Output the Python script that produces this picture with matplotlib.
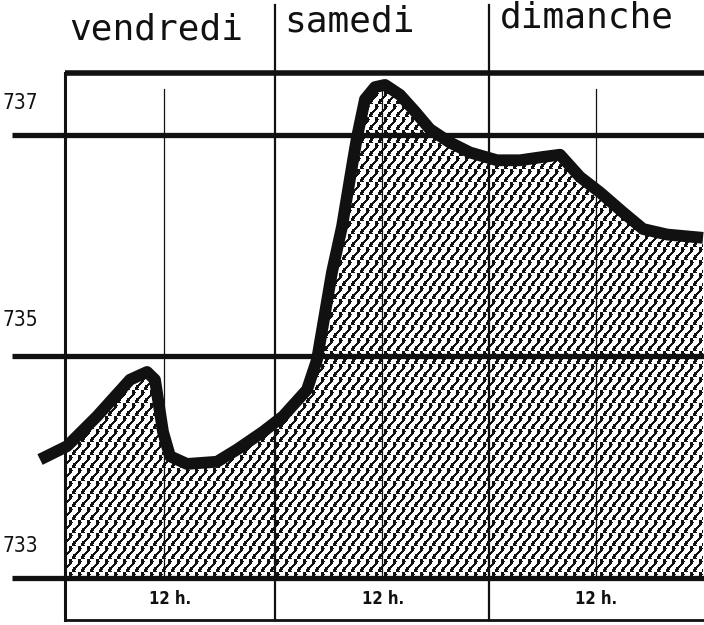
import numpy as np
import matplotlib
matplotlib.use("Agg")
import matplotlib.pyplot as plt
from matplotlib.patches import Polygon

# ---- data (hours from Friday 0 h, pressure in mm) ----
hours = [-2.35, 0.67, 4.04, 7.74, 9.65, 10.54, 11.44, 12.22, 14.13, 17.50,
         19.74, 22.65, 24.90, 27.59, 28.71, 30.39, 31.51, 32.75, 33.20, 34.09,
         35.21, 36.34, 38.02, 39.70, 41.38, 43.63, 45.87, 48.90, 51.48, 54.06,
         55.96, 58.20, 60.45, 63.03, 65.27, 67.96, 72.0]
pressure = [734.07, 734.19, 734.46, 734.79, 734.86, 734.79, 734.32, 734.10, 734.03, 734.05,
            734.16, 734.32, 734.46, 734.70, 734.97, 735.76, 736.17, 736.77, 736.98, 737.32,
            737.43, 737.45, 737.36, 737.21, 737.05, 736.93, 736.84, 736.77, 736.77, 736.80,
            736.82, 736.62, 736.48, 736.30, 736.15, 736.10, 736.07]
day_labels = ["vendredi", "samedi", "dimanche"]
day_bounds = [24, 48]
noon_hours = [11.5, 36, 60]
noon_label = "12 h."
pressure_levels = [737, 735, 733]
pressure_labels = ["737", "735", "733"]

W, H = 704, 625
xmin, xmax = -6.84, 72.11
ymin, ymax = 732.577, 738.216
left_border = 0.45
top_border = 737.56
bottom_border = 732.62

fig = plt.figure(figsize=(W / 100, H / 100), dpi=100)
ax = fig.add_axes([0, 0, 1, 1])
ax.set_xlim(xmin, xmax)
ax.set_ylim(ymin, ymax)
ax.axis("off")
ink = "#111111"

# ---- textured fill under the curve ----
hx = np.array(hours)
py = np.array(pressure)
mask = hx >= left_border
fx = np.concatenate([[left_border], hx[mask]])
fy = np.concatenate([[np.interp(left_border, hx, py)], py[mask]])
verts = np.column_stack([np.concatenate([fx, [fx[-1], fx[0]]]),
                         np.concatenate([fy, [733, 733]])])
poly = Polygon(verts, closed=True, transform=ax.transData,
               facecolor="none", edgecolor="none")
ax.add_patch(poly)

X, Y = np.meshgrid(np.arange(W), np.arange(H))
cx = X % 9
cy = Y % 13
xc = 2 + 5.0 * (1 - cy / 12.0) + 1.5 * np.sin(2 * np.pi * cy / 13.0)
d = np.abs(((cx - xc + 4.5) % 9) - 4.5)
black = (d < 1.7) | ((cy == 0) & (cx >= 6)) | ((cy == 12) & (cx <= 2))
tex = np.ones((H, W, 4))
tex[black, :3] = 0.07
im = ax.imshow(tex, extent=[xmin, xmax, ymin, ymax], origin="upper",
               interpolation="nearest", aspect="auto", zorder=1)
im.set_clip_path(poly)

# ---- frame and grid ----
ax.plot([left_border, xmax], [top_border, top_border], color=ink, lw=4, zorder=3,
        solid_capstyle="butt")
ax.plot([left_border, xmax], [bottom_border, bottom_border], color=ink, lw=2, zorder=3)
xl = -5.5
for lev in pressure_levels:
    ax.plot([xl, xmax], [lev, lev], color=ink, lw=3.8, zorder=3, solid_capstyle="butt")
ax.plot([left_border, left_border], [bottom_border, top_border], color=ink, lw=2.2, zorder=3)
for b in day_bounds:
    ax.plot([b, b], [bottom_border, 738.17], color=ink, lw=1.6, zorder=3)
for n in noon_hours:
    ax.plot([n, n], [733, 737.41], color=ink, lw=0.9, zorder=2)

# ---- curve ----
ax.plot(hours, pressure, color=ink, lw=8.5, solid_capstyle="butt",
        solid_joinstyle="round", zorder=4)

# ---- text ----
day_x = [0.95, 25.0, 49.2]
day_y = [737.95, 738.02, 738.06]
for lab, x0, y0 in zip(day_labels, day_x, day_y):
    ax.text(x0, y0, lab, fontsize=26, family="DejaVu Sans Mono",
            ha="left", va="center", color=ink)
lab_y = [737.29, 735.33, 733.29]
for lab, y0 in zip(pressure_labels, lab_y):
    ax.text(-4.55, y0, lab, fontsize=15, family="DejaVu Sans", fontstretch="condensed",
            ha="center", va="center", color=ink)
for n, x0 in zip(noon_hours, [12.2, 36.1, 60.0]):
    ax.text(x0, 732.81, noon_label, fontsize=12, family="DejaVu Sans",
            fontstretch="condensed", fontweight="bold", ha="center", va="center", color=ink)

fig.savefig("out.png", dpi=100, facecolor="white")
